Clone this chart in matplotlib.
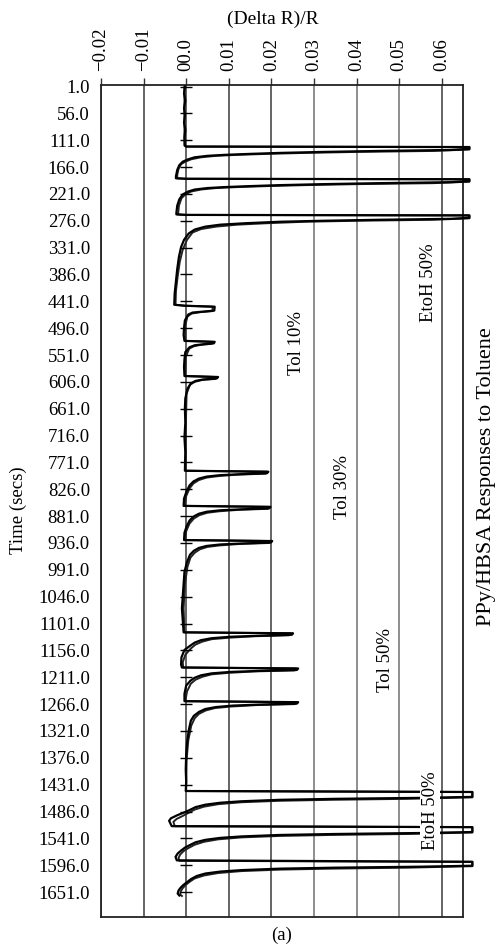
import matplotlib
matplotlib.use('Agg')
import matplotlib.pyplot as plt
import numpy as np

plt.rcParams['font.family'] = ['Liberation Serif', 'DejaVu Serif']

# x ticks (Delta R)/R and y ticks (time, secs)
x_ticks = [-0.02, -0.01, 0.0, 0.01, 0.02, 0.03, 0.04, 0.05, 0.06]
x_tick_labels = ['\u22120.02', '\u22120.01', '00.0', '0.01', '0.02', '0.03', '0.04', '0.05', '0.06']
y_ticks = [1.0 + 55 * k for k in range(31)]
y_tick_labels = ['%.1f' % v for v in y_ticks]

# trace 1 (time in s, delta R / R)
time_a = [1, 15, 30, 45, 60, 75, 90, 105, 122,
	124, 125, 129, 131, 133, 135, 137, 139, 141, 143, 146, 150, 155, 162, 172, 185, 189, 190,
	191, 195, 197, 199, 201, 203, 205, 207, 209, 212, 216, 222, 232, 245, 260, 263, 264,
	265, 270, 272, 274, 276, 278, 281, 284, 288, 294, 302, 315, 330, 350, 375, 400, 425, 448,
	450, 452, 460, 462, 464, 468, 480, 495, 510, 522,
	524, 527, 529, 531, 535, 545, 560, 575, 594,
	596, 599, 601, 604, 609, 620, 640, 660, 690, 720, 750, 788,
	790, 793, 795, 797, 800, 804, 810, 818, 830, 845, 860,
	862, 865, 867, 869, 872, 876, 882, 890, 902, 915, 930,
	932, 935, 937, 939, 942, 946, 952, 960, 975, 995, 1020, 1045, 1070, 1095, 1119,
	1121, 1124, 1126, 1128, 1131, 1135, 1140, 1146, 1155, 1170, 1185, 1191,
	1193, 1196, 1198, 1200, 1203, 1207, 1212, 1218, 1228, 1245, 1260,
	1262, 1265, 1267, 1269, 1272, 1276, 1282, 1290, 1300, 1320, 1345, 1370, 1400, 1425, 1444,
	1446, 1456, 1458, 1460, 1462, 1465, 1468, 1472, 1477, 1483, 1488, 1494, 1500, 1505, 1512, 1516,
	1518, 1528, 1530, 1532, 1534, 1537, 1540, 1544, 1549, 1555, 1560, 1566, 1572, 1579, 1586,
	1589, 1597, 1599, 1601, 1603, 1606, 1609, 1613, 1618, 1624, 1630, 1636, 1642, 1648, 1654, 1658]
dr_a = [-0.0003, -0.0005, -0.0002, -0.0005, -0.0003, -0.0005, -0.0002, -0.0004, -0.0003,
	0.0, 0.0665, 0.0665, 0.062, 0.045, 0.032, 0.022, 0.015, 0.009, 0.005, 0.002, 0.0005, -0.0008, -0.0016, -0.0021, -0.0024, -0.0024, 0.0,
	0.0665, 0.0665, 0.062, 0.045, 0.032, 0.022, 0.015, 0.009, 0.005, 0.002, 0.0005, -0.0008, -0.0016, -0.0021, -0.0023, -0.0023, 0.0,
	0.0665, 0.0665, 0.062, 0.045, 0.032, 0.022, 0.014, 0.008, 0.0045, 0.002, 0.0006, -0.0005, -0.0012, -0.0017, -0.0021, -0.0024, -0.0027, -0.0028,
	-0.0005, 0.0067, 0.0066, 0.004, 0.0015, 0.0005, -0.0003, -0.0005, -0.0006, -0.0004,
	0.0067, 0.0065, 0.004, 0.002, 0.0008, -0.0002, -0.0004, -0.0005, -0.0004,
	0.0075, 0.0072, 0.004, 0.0022, 0.0011, 0.0003, -0.0002, -0.0003, -0.0002, -0.0004, -0.0002, -0.0003,
	0.0193, 0.019, 0.013, 0.008, 0.0048, 0.003, 0.0017, 0.0008, 0.0001, -0.0005, -0.0006,
	0.0198, 0.0195, 0.013, 0.008, 0.0048, 0.003, 0.0017, 0.0008, 0.0001, -0.0004, -0.0005,
	0.0202, 0.0199, 0.013, 0.008, 0.0048, 0.003, 0.0018, 0.0009, 0.0002, -0.0004, -0.0006, -0.0008, -0.0010, -0.0008, -0.0006,
	0.0251, 0.0248, 0.017, 0.0105, 0.006, 0.0035, 0.002, 0.001, -0.0004, -0.0011, -0.0012, -0.0010,
	0.0263, 0.026, 0.017, 0.0105, 0.006, 0.0035, 0.002, 0.001, 0.0, -0.0004, -0.0004,
	0.0263, 0.026, 0.017, 0.011, 0.007, 0.0045, 0.003, 0.0018, 0.0011, 0.0006, 0.0002, 0.0, -0.0001, 0.0, -0.0001,
	0.0672, 0.0672, 0.055, 0.035, 0.022, 0.013, 0.008, 0.0045, 0.0022, 0.0008, -0.0005, -0.0022, -0.0036, -0.0040, -0.0036, -0.0034,
	0.0672, 0.0672, 0.055, 0.035, 0.022, 0.013, 0.008, 0.0045, 0.0022, 0.0008, -0.0003, -0.0012, -0.0020, -0.0025, -0.0022,
	0.0672, 0.0672, 0.055, 0.035, 0.022, 0.013, 0.008, 0.0045, 0.0025, 0.0012, 0.0003, -0.0006, -0.0013, -0.0018, -0.0020, -0.0016]

# trace 2 (second sensor run, overlaps trace 1 mostly)
time_b = [1, 40, 80, 122,
	124, 125, 130, 133, 135, 137, 139, 141, 143, 146, 150, 155, 160, 170, 182, 189, 190,
	191, 196, 199, 201, 203, 205, 207, 209, 212, 216, 222, 230, 245, 263, 264,
	265, 271, 274, 276, 278, 281, 284, 288, 293, 300, 315, 335, 360, 390, 420, 448, 450,
	452, 461, 463, 466, 472, 490, 522,
	524, 528, 530, 533, 538, 555, 594,
	596, 600, 602, 606, 612, 630, 700, 788,
	790, 794, 796, 799, 802, 807, 814, 824, 840, 860,
	862, 866, 868, 871, 874, 879, 886, 896, 912, 930,
	932, 936, 938, 941, 944, 949, 956, 966, 985, 1020, 1070, 1119,
	1121, 1125, 1127, 1130, 1133, 1138, 1144, 1152, 1165, 1180, 1191,
	1193, 1197, 1199, 1202, 1205, 1210, 1216, 1224, 1240, 1260,
	1262, 1266, 1268, 1271, 1274, 1279, 1286, 1295, 1310, 1340, 1380, 1444,
	1446, 1457, 1460, 1462, 1464, 1467, 1471, 1476, 1482, 1489, 1495, 1501, 1507, 1513, 1516,
	1518, 1529, 1532, 1534, 1536, 1539, 1543, 1548, 1554, 1561, 1567, 1574, 1581, 1587,
	1589, 1598, 1601, 1603, 1605, 1608, 1612, 1617, 1623, 1630, 1637, 1644, 1650, 1656, 1659]
dr_b = [-0.0004, -0.0004, -0.0004, -0.0004,
	0.0, 0.0665, 0.0665, 0.058, 0.040, 0.028, 0.019, 0.012, 0.007, 0.0035, 0.0012, -0.0002, -0.0012, -0.0018, -0.0021, -0.0021, 0.0,
	0.0665, 0.0665, 0.058, 0.040, 0.028, 0.019, 0.012, 0.007, 0.0035, 0.0012, -0.0002, -0.0011, -0.0017, -0.0019, 0.0,
	0.0665, 0.0665, 0.058, 0.040, 0.028, 0.019, 0.012, 0.007, 0.0035, 0.0015, 0.0002, -0.0008, -0.0015, -0.0020, -0.0024, -0.0025, -0.0003,
	0.0062, 0.0062, 0.0035, 0.0013, 0.0003, -0.0002, -0.0002,
	0.0063, 0.006, 0.0035, 0.0018, 0.0007, -0.0001, -0.0002,
	0.007, 0.0068, 0.0038, 0.002, 0.0009, 0.0001, -0.0001, -0.0001,
	0.019, 0.0187, 0.012, 0.0075, 0.0048, 0.003, 0.0017, 0.0008, 0.0, -0.0003,
	0.0195, 0.0192, 0.0125, 0.0078, 0.005, 0.0031, 0.0018, 0.0008, 0.0, -0.0002,
	0.0198, 0.0195, 0.0125, 0.0078, 0.005, 0.0032, 0.002, 0.001, 0.0003, -0.0003, -0.0006, -0.0004,
	0.0245, 0.0242, 0.016, 0.0100, 0.006, 0.0038, 0.0022, 0.0011, -0.0002, -0.0008, -0.0007,
	0.0258, 0.0255, 0.016, 0.0100, 0.006, 0.0038, 0.0022, 0.0011, 0.0002, -0.0002,
	0.0258, 0.0255, 0.0165, 0.0105, 0.0068, 0.0046, 0.003, 0.002, 0.0012, 0.0005, 0.0001, 0.0,
	0.0672, 0.0672, 0.052, 0.034, 0.022, 0.013, 0.0075, 0.0042, 0.002, 0.0005, -0.0008, -0.0022, -0.0030, -0.0028, -0.0026,
	0.0672, 0.0672, 0.052, 0.034, 0.022, 0.013, 0.0075, 0.0042, 0.002, 0.0005, -0.0006, -0.0014, -0.0018, -0.0016,
	0.0672, 0.0672, 0.052, 0.034, 0.022, 0.013, 0.0075, 0.0042, 0.002, 0.0008, -0.0002, -0.0009, -0.0013, -0.0014, -0.0010]

# annotations: text, x, time
labels = [('Tol 10%', 0.026, 526), ('Tol 30%', 0.0366, 821), ('Tol 50%', 0.0467, 1175),
	('EtoH 50%', 0.0568, 403)]

fig = plt.figure(figsize=(4.98, 9.47), dpi=100)
ax = fig.add_axes([0.2028, 0.0317, 0.7269, 0.8785])

ax.plot(dr_b, time_b, color='#222222', lw=1.4, clip_on=False, zorder=3)
ax.plot(dr_a, time_a, color='black', lw=1.6, clip_on=False, zorder=3)

# little cross marks on the zero line
ax.plot([0.0] * len(y_ticks), y_ticks, ls='none', marker='_', ms=9, mew=1.0, color='black', zorder=3)

ax.set_xlim(-0.02, 0.065)
ax.set_ylim(1702, -2)
ax.xaxis.tick_top()
ax.xaxis.set_label_position('top')
ax.set_xticks(x_ticks)
ax.set_xticklabels(x_tick_labels, rotation=90, fontsize=13.5)
ax.set_yticks(y_ticks)
ax.set_yticklabels(y_tick_labels, fontsize=13.5)
ax.tick_params(axis='x', length=5, width=1, pad=5, color='#333333')
ax.tick_params(axis='y', length=0, pad=8)
ax.grid(axis='x', color='#3a3a3a', lw=1.1)
for i, gl in enumerate(ax.get_xgridlines()):
	if i in (5, 6, 7):
		gl.set_color('#707070')
for s in ax.spines.values():
	s.set_color('#222222')
	s.set_linewidth(1.3)

for txt, xv, tv in labels:
	ax.text(xv, tv, txt, rotation=90, ha='center', va='center', fontsize=13.5, zorder=4)
ax.text(0.0573, 1485, 'EtoH 50%', rotation=90, ha='center', va='center', fontsize=13.5, zorder=5,
	bbox=dict(facecolor='white', edgecolor='none', pad=1))

fig.text(0.548, 0.98, '(Delta R)/R', ha='center', va='center', fontsize=14)
fig.text(0.036, 0.461, 'Time (secs)', rotation=90, ha='center', va='center', fontsize=13.5)
fig.text(0.976, 0.497, 'PPy/HBSA Responses to Toluene', rotation=90, ha='center', va='center', fontsize=16)
fig.text(0.566, 0.0127, '(a)', ha='center', va='center', fontsize=13.5)

fig.savefig('out.png', dpi=100)
